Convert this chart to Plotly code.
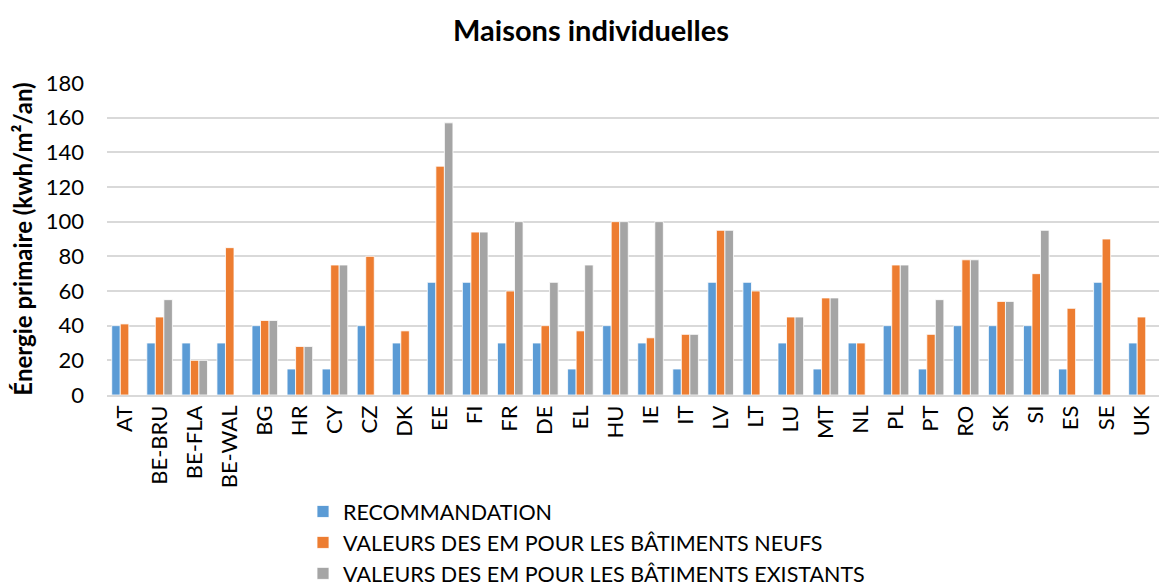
import plotly.graph_objects as go

categories = ["AT", "BE-BRU", "BE-FLA", "BE-WAL", "BG", "HR", "CY", "CZ", "DK", "EE",
              "FI", "FR", "DE", "EL", "HU", "IE", "IT", "LV", "LT", "LU",
              "MT", "NL", "PL", "PT", "RO", "SK", "SI", "ES", "SE", "UK"]
recommandation = [40, 30, 30, 30, 40, 15, 15, 40, 30, 65,
                  65, 30, 30, 15, 40, 30, 15, 65, 65, 30,
                  15, 30, 40, 15, 40, 40, 40, 15, 65, 30]
neufs = [41, 45, 20, 85, 43, 28, 75, 80, 37, 132,
         94, 60, 40, 37, 100, 33, 35, 95, 60, 45,
         56, 30, 75, 35, 78, 54, 70, 50, 90, 45]
existants = [None, 55, 20, None, 43, 28, 75, None, None, 157,
             94, 100, 65, 75, 100, 100, 35, 95, None, 45,
             56, None, 75, 55, 78, 54, 95, None, None, None]

series_names = ["RECOMMANDATION",
                "VALEURS DES EM POUR LES BÂTIMENTS NEUFS",
                "VALEURS DES EM POUR LES BÂTIMENTS EXISTANTS"]
colors = ["#5B9BD5", "#ED7D31", "#A5A5A5"]

font_family = "Lato, 'Open Sans', sans-serif"

fig = go.Figure()
for name, vals, col in zip(series_names, [recommandation, neufs, existants], colors):
    fig.add_trace(go.Bar(x=categories, y=vals, name=name,
                         marker=dict(color=col, line=dict(color="white", width=0.8))))

fig.update_layout(
    width=1162, height=587,
    paper_bgcolor="white", plot_bgcolor="white",
    barmode="group", bargap=0.27, bargroupgap=0,
    margin=dict(l=107, r=3, t=83, b=192, autoexpand=False),
    title=dict(text="<b>Maisons individuelles</b>", x=591 / 1162, xanchor="center",
               yref="container", y=1 - 31 / 587, yanchor="middle",
               font=dict(family=font_family, size=29, color="black")),
    font=dict(family=font_family, size=22, color="black"),
    xaxis=dict(tickangle=-90, showgrid=False, showline=True, linecolor="#D9D9D9",
               linewidth=1.5, tickfont=dict(size=22), ticks="", automargin=False),
    yaxis=dict(range=[0, 180], dtick=20, showgrid=True, gridcolor="#D9D9D9",
               gridwidth=1.5, zeroline=False, ticks="", ticklabelstandoff=22,
               tickfont=dict(size=22), automargin=False,
               title=dict(text="<b>Énergie primaire (kwh/m²/an)</b>",
                          font=dict(size=24), standoff=6)),
    legend=dict(orientation="v", x=(303 - 107) / 1052, xanchor="left",
                yref="container", y=(587 - 491) / 587, yanchor="top",
                font=dict(size=21.5), tracegroupgap=0, itemwidth=30,
                bgcolor="rgba(0,0,0,0)"),
)

fig.write_html("out.html", config={"displayModeBar": False},
               post_script="document.body.style.margin='0px';")
